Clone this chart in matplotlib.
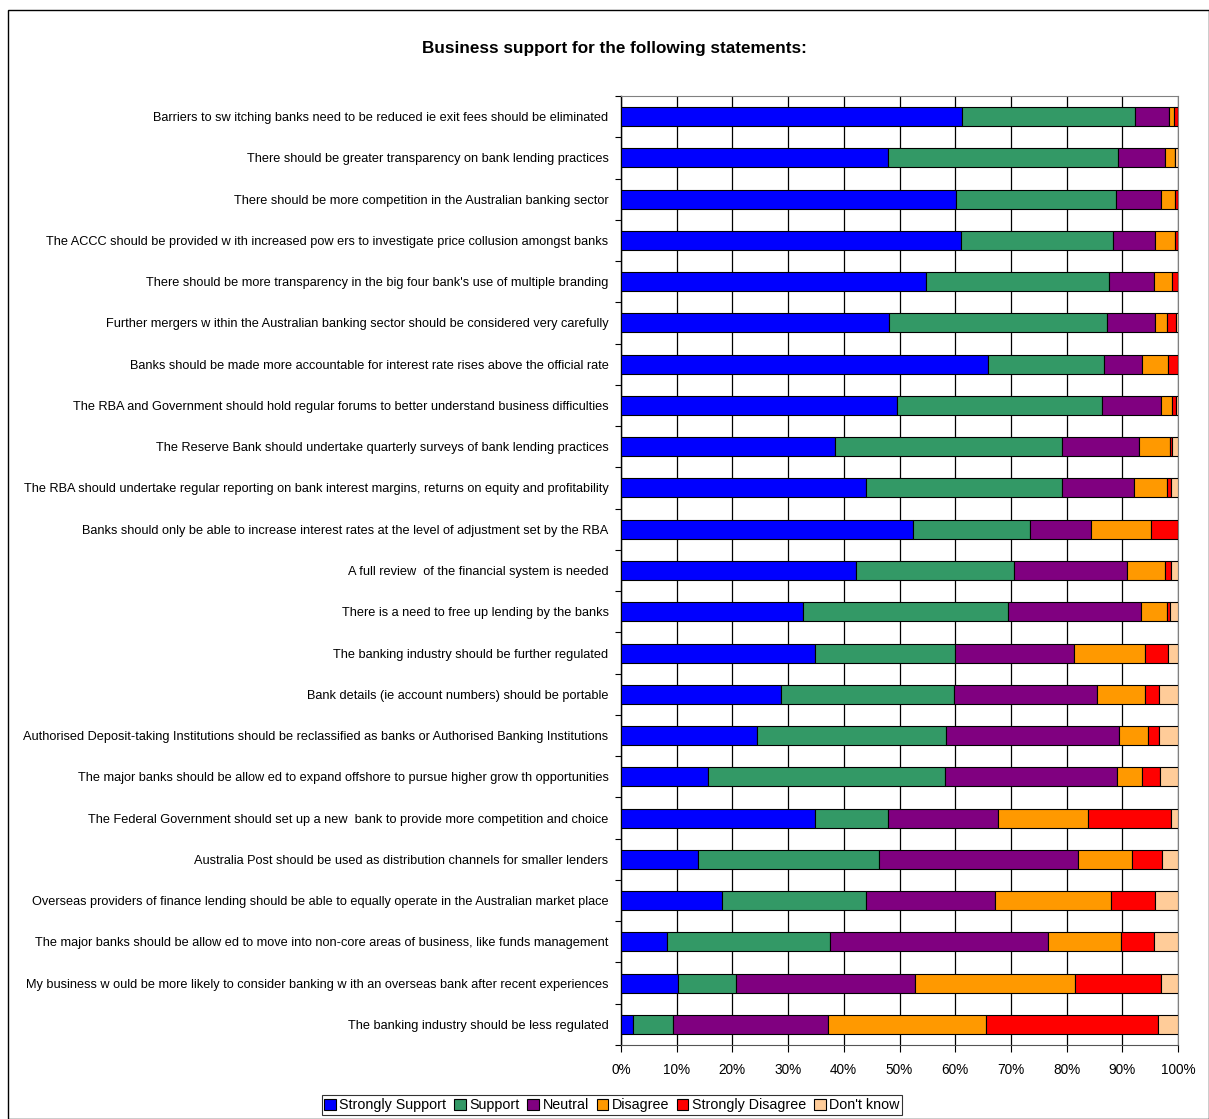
import matplotlib
matplotlib.use("Agg")
import numpy as np
import matplotlib.pyplot as plt
from matplotlib.patches import Rectangle

plt.rcParams["font.family"] = ["Liberation Sans", "DejaVu Sans"]

statements = [
    "Barriers to sw itching banks need to be reduced ie exit fees should be eliminated",
    "There should be greater transparency on bank lending practices",
    "There should be more competition in the Australian banking sector",
    "The ACCC should be provided w ith increased pow ers to investigate price collusion amongst banks",
    "There should be more transparency in the big four bank's use of multiple branding",
    "Further mergers w ithin the Australian banking sector should be considered very carefully",
    "Banks should be made more accountable for interest rate rises above the official rate",
    "The RBA and Government should hold regular forums to better understand business difficulties",
    "The Reserve Bank should undertake quarterly surveys of bank lending practices",
    "The RBA should undertake regular reporting on bank interest margins, returns on equity and profitability",
    "Banks should only be able to increase interest rates at the level of adjustment set by the RBA",
    "A full review  of the financial system is needed",
    "There is a need to free up lending by the banks",
    "The banking industry should be further regulated",
    "Bank details (ie account numbers) should be portable",
    "Authorised Deposit-taking Institutions should be reclassified as banks or Authorised Banking Institutions",
    "The major banks should be allow ed to expand offshore to pursue higher grow th opportunities",
    "The Federal Government should set up a new  bank to provide more competition and choice",
    "Australia Post should be used as distribution channels for smaller lenders",
    "Overseas providers of finance lending should be able to equally operate in the Australian market place",
    "The major banks should be allow ed to move into non-core areas of business, like funds management",
    "My business w ould be more likely to consider banking w ith an overseas bank after recent experiences",
    "The banking industry should be less regulated",
]

responses = ["Strongly Support", "Support", "Neutral", "Disagree", "Strongly Disagree", "Don't know"]
colors = ["#0000FF", "#339966", "#800080", "#FF9900", "#FF0000", "#FFCC99"]

# percentages per statement (same order as statements)
strongly_support = [61.3, 47.9, 60.2, 61.1, 54.7, 48.1, 65.8, 49.6, 38.5, 44.0, 52.5, 42.2,
                    32.6, 34.8, 28.8, 24.5, 15.7, 34.8, 13.8, 18.1, 8.2, 10.3, 2.1]
support = [31.0, 41.4, 28.7, 27.3, 32.9, 39.1, 20.9, 36.7, 40.6, 35.2, 20.9, 28.4,
           36.8, 25.2, 31.0, 33.8, 42.4, 13.1, 32.6, 25.8, 29.3, 10.4, 7.2]
neutral = [6.0, 8.3, 8.0, 7.5, 8.1, 8.7, 6.8, 10.7, 13.9, 12.9, 10.9, 20.3,
           23.9, 21.3, 25.7, 31.1, 31.0, 19.8, 35.7, 23.3, 39.1, 32.1, 27.8]
disagree = [1.0, 1.9, 2.6, 3.6, 3.3, 2.2, 4.7, 2.0, 5.6, 6.0, 10.8, 6.7,
            4.8, 12.7, 8.5, 5.2, 4.4, 16.1, 9.7, 20.8, 13.2, 28.7, 28.4]
strongly_disagree = [0.7, 0.0, 0.5, 0.5, 1.0, 1.6, 1.8, 0.6, 0.4, 0.7, 4.9, 1.2,
                     0.5, 4.2, 2.6, 2.0, 3.3, 14.9, 5.4, 7.9, 5.9, 15.5, 30.9]
dont_know = [0.0, 0.5, 0.0, 0.0, 0.0, 0.3, 0.0, 0.4, 1.0, 1.2, 0.0, 1.2,
             1.4, 1.8, 3.4, 3.4, 3.2, 1.3, 2.8, 4.1, 4.3, 3.0, 3.6]

series = [strongly_support, support, neutral, disagree, strongly_disagree, dont_know]

W, H = 1209, 1119
fig = plt.figure(figsize=(W / 100, H / 100), dpi=100)
ax = fig.add_axes([621 / W, 1 - 1045 / H, 557 / W, (1045 - 96) / H])

y = np.arange(len(statements))
left = np.zeros(len(statements))
for name, vals, c in zip(responses, series, colors):
    vals = np.array(vals)
    ax.barh(y, vals, left=left, height=0.46, color=c, edgecolor="black",
            linewidth=0.8, label=name, zorder=3)
    left += vals

ax.set_xlim(0, 100)
ax.set_ylim(len(statements) - 0.5, -0.5)
ax.set_xticks(np.arange(0, 101, 10))
ax.set_xticklabels([f"{v}%" for v in range(0, 101, 10)], fontsize=9.8)
ax.xaxis.grid(True, color="black", linewidth=0.9, zorder=0)
ax.tick_params(axis="x", length=5, width=0.8, direction="out", pad=8)

ax.set_yticks(np.arange(-0.5, len(statements), 1))
ax.set_yticklabels([])
ax.set_yticks(y, minor=True)
ax.set_yticklabels(statements, minor=True, fontsize=9.2)
ax.tick_params(axis="y", which="major", length=4, width=0.8)
ax.tick_params(axis="y", which="minor", length=0, pad=9)

for s in ["top", "right"]:
    ax.spines[s].set_color("#808080")
ax.spines["left"].set_linewidth(1.0)
ax.spines["bottom"].set_color("#555555")

fig.text(614 / W, 1 - 48 / H, "Business support for the following statements:",
         ha="center", va="center", fontsize=12.3, fontweight="bold")

leg = fig.legend(loc="center", bbox_to_anchor=(612 / W, 1 - 1105 / H), ncol=6,
                 fontsize=10.3, frameon=True, fancybox=False, edgecolor="black",
                 handlelength=0.8, handleheight=0.8, handletextpad=0.25,
                 columnspacing=0.55, borderpad=0.2, borderaxespad=0)
leg.get_frame().set_linewidth(0.8)

fig.patches.append(Rectangle((8 / W, 0), 1 - 8 / W, 1 - 10 / H, transform=fig.transFigure,
                             fill=False, edgecolor="black", linewidth=1.0))

fig.savefig("out.png", dpi=100)
